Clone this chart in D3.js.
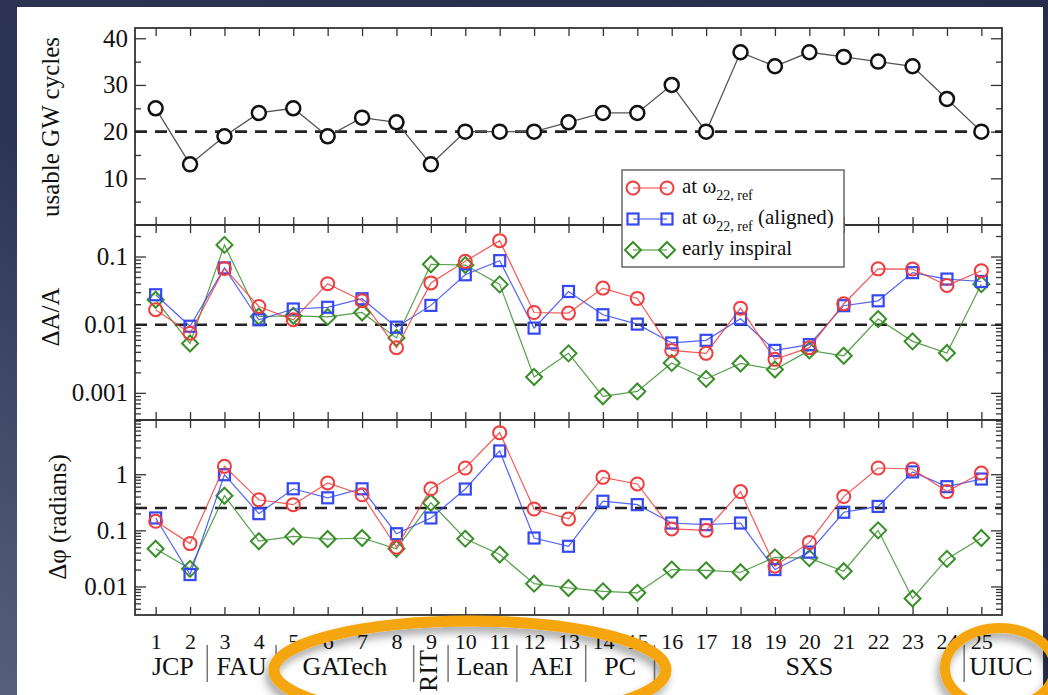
<!DOCTYPE html>
<html>
<head>
<meta charset="utf-8">
<script src="https://cdn.jsdelivr.net/npm/d3@7"></script>
<style>
  body { margin: 0; background: #2a3150; }
  svg { display: block; }
  text { font-family: "Liberation Serif", "DejaVu Serif", serif; fill: #111; }
</style>
</head>
<body>
<div id="chart"></div>
<script>
// run numbers 1..25
var runs = [1,2,3,4,5,6,7,8,9,10,11,12,13,14,15,16,17,18,19,20,21,22,23,24,25];

// usable GW cycles
var cycles = [25,13,19,24,25,19,23,22,13,20,20,20,22,24,24,30,20,37,34,37,36,35,34,27,20];

// amplitude error dA/A
var ampRef     = [0.0166,0.0075,0.067,0.0185,0.0118,0.040,0.0225,0.0046,0.041,0.085,0.171,0.0151,0.0148,0.0344,0.0243,0.0042,0.0038,0.0175,0.0031,0.0046,0.0203,0.066,0.0655,0.0376,0.062];
var ampAligned = [0.0275,0.0095,0.068,0.0118,0.017,0.018,0.024,0.0092,0.0192,0.054,0.087,0.0089,0.0307,0.014,0.0102,0.0054,0.0059,0.0122,0.0042,0.0051,0.019,0.0224,0.058,0.0467,0.043];
var ampEarly   = [0.0232,0.0053,0.148,0.0132,0.0135,0.0130,0.0151,0.0064,0.077,0.075,0.039,0.00171,0.0038,0.00089,0.00105,0.00275,0.0016,0.0027,0.0022,0.0042,0.0035,0.0121,0.0057,0.00385,0.0393];

// phase error (radians)
var phaseRef     = [0.145,0.058,1.38,0.35,0.287,0.70,0.43,0.050,0.55,1.29,5.5,0.24,0.16,0.88,0.67,0.106,0.10,0.49,0.023,0.061,0.40,1.29,1.24,0.49,1.05];
var phaseAligned = [0.166,0.0163,0.98,0.198,0.55,0.38,0.55,0.087,0.166,0.545,2.6,0.073,0.052,0.33,0.287,0.135,0.126,0.135,0.020,0.041,0.21,0.267,1.1,0.60,0.82];
var phaseEarly   = [0.047,0.0206,0.414,0.064,0.078,0.070,0.073,0.047,0.31,0.071,0.037,0.0112,0.0094,0.0082,0.0077,0.020,0.0194,0.0179,0.033,0.032,0.0187,0.10,0.0061,0.031,0.073];

// research groups and the runs they contributed
var groupNames = ["JCP","FAU","GATech","RIT","Lean","AEI","PC","SXS","UIUC"];
var groupFirst = [1,3,5,9,10,12,14,16,25];
var groupLast  = [2,4,8,9,11,13,15,24,25];

var legendLabels = [["at \u03c9", "22, ref", ""], ["at \u03c9", "22, ref", " (aligned)"], ["early inspiral", "", ""]];

var W = 1048, H = 695;
var red = "#f03c3c", blue = "#3548f2", green = "#3a8f2a";

var svg = d3.select("#chart").append("svg").attr("width", W).attr("height", H);

var defs = svg.append("defs");
var grad = defs.append("linearGradient").attr("id", "bg")
    .attr("x1", "1").attr("y1", "0").attr("x2", "0").attr("y2", "1");
grad.append("stop").attr("offset", "0").attr("stop-color", "#262d4a");
grad.append("stop").attr("offset", "0.6").attr("stop-color", "#2d3554");
grad.append("stop").attr("offset", "1").attr("stop-color", "#56607c");
var shadow = defs.append("filter").attr("id", "shadow")
    .attr("x", "-20%").attr("y", "-20%").attr("width", "140%").attr("height", "140%");
shadow.append("feDropShadow").attr("dx", -3).attr("dy", 6).attr("stdDeviation", 4)
    .attr("flood-color", "#000").attr("flood-opacity", 0.35);

svg.append("rect").attr("width", W).attr("height", H).attr("fill", "url(#bg)");
svg.append("rect").attr("x", 17).attr("y", 7).attr("width", 1026).attr("height", H - 7).attr("fill", "#fff");

var x = d3.scaleLinear().domain([0.4, 25.6]).range([135, 1002]);
var y1 = d3.scaleLinear().domain([0, 42.2]).range([225, 28]);
var y2 = d3.scaleLog().domain([4e-4, 0.29]).range([420, 225]);
var y3 = d3.scaleLog().domain([0.0031, 9.25]).range([615, 420]);

function minorLog(scale) {
  var d = scale.domain(), out = [];
  for (var e = Math.floor(Math.log10(d[0])); e <= Math.ceil(Math.log10(d[1])); e++) {
    for (var m = 2; m <= 9; m++) {
      var v = m * Math.pow(10, e);
      if (v >= d[0] && v <= d[1]) out.push(v);
    }
  }
  return out;
}

function styleAxis(g) {
  g.select(".domain").remove();
  g.selectAll(".tick line").attr("stroke", "#333").attr("stroke-width", 1.3);
  g.selectAll("text").attr("fill", "#111").attr("font-family", '"Liberation Serif", serif');
}

function frame(y, majors, minors, fmt, showX) {
  var top = y.range()[1], bottom = y.range()[0];
  var g = svg.append("g");
  // y ticks left and right, pointing inward
  g.append("g").attr("transform", "translate(135,0)")
    .call(d3.axisLeft(y).tickValues(majors).tickSize(-11).tickPadding(7).tickFormat(fmt))
    .call(styleAxis)
    .selectAll("text").attr("font-size", 25);
  g.append("g").attr("transform", "translate(135,0)")
    .call(d3.axisLeft(y).tickValues(minors).tickSize(-6).tickFormat(""))
    .call(styleAxis);
  g.append("g").attr("transform", "translate(1002,0)")
    .call(d3.axisRight(y).tickValues(majors).tickSize(-11).tickFormat(""))
    .call(styleAxis);
  g.append("g").attr("transform", "translate(1002,0)")
    .call(d3.axisRight(y).tickValues(minors).tickSize(-6).tickFormat(""))
    .call(styleAxis);
  // x ticks top and bottom
  g.append("g").attr("transform", "translate(0," + top + ")")
    .call(d3.axisTop(x).tickValues(runs).tickSize(-8).tickFormat(""))
    .call(styleAxis);
  var xb = g.append("g").attr("transform", "translate(0," + bottom + ")")
    .call(d3.axisBottom(x).tickValues(runs).tickSize(-8).tickPadding(showX ? 18 : 0)
      .tickFormat(showX ? d3.format("d") : ""))
    .call(styleAxis);
  xb.selectAll("text").attr("font-size", 22);
  g.append("rect").attr("x", 135).attr("y", top).attr("width", 1002 - 135).attr("height", bottom - top)
    .attr("fill", "none").attr("stroke", "#333").attr("stroke-width", 1.8);
}

function dashed(y, v) {
  svg.append("line").attr("x1", x.range()[0]).attr("x2", x.range()[1])
    .attr("y1", y(v)).attr("y2", y(v))
    .attr("stroke", "#222").attr("stroke-width", 2.6).attr("stroke-dasharray", "12,8");
}

function marker(g, shape, color, cx, cy) {
  if (shape === "circle") {
    g.append("circle").attr("cx", cx).attr("cy", cy).attr("r", 6.5)
      .attr("fill", "none").attr("stroke", color).attr("stroke-width", 2);
  } else if (shape === "square") {
    g.append("rect").attr("x", cx - 5.5).attr("y", cy - 5.5).attr("width", 11).attr("height", 11)
      .attr("fill", "none").attr("stroke", color).attr("stroke-width", 2.2);
  } else {
    g.append("path").attr("d", "M" + cx + "," + (cy - 8) + "L" + (cx + 8) + "," + cy + "L" + cx + "," + (cy + 8) + "L" + (cx - 8) + "," + cy + "Z")
      .attr("fill", "none").attr("stroke", color).attr("stroke-width", 2);
  }
}

function series(y, values, color, shape) {
  var g = svg.append("g");
  var line = d3.line().x(function(d, i) { return x(runs[i]); }).y(function(d) { return y(d); });
  g.append("path").datum(values).attr("d", line)
    .attr("fill", "none").attr("stroke", color).attr("stroke-width", 1.2).attr("opacity", 0.85);
  values.forEach(function(v, i) { marker(g, shape, color, x(runs[i]), y(v)); });
}

// ---- panel 1: usable cycles
frame(y1, [10, 20, 30, 40], [5, 15, 25, 35], d3.format("d"), false);
dashed(y1, 20);
var line1 = d3.line().x(function(d, i) { return x(runs[i]); }).y(function(d) { return y1(d); });
svg.append("path").datum(cycles).attr("d", line1)
  .attr("fill", "none").attr("stroke", "#555").attr("stroke-width", 1.3);
svg.selectAll(".cyc").data(cycles).enter().append("circle")
  .attr("cx", function(d, i) { return x(runs[i]); })
  .attr("cy", function(d) { return y1(d); })
  .attr("r", 7).attr("fill", "#fff").attr("stroke", "#111").attr("stroke-width", 2.5);

// ---- panel 2: amplitude
frame(y2, [0.001, 0.01, 0.1], minorLog(y2), function(d) { return String(d); }, false);
dashed(y2, 0.01);
series(y2, ampEarly, green, "diamond");
series(y2, ampAligned, blue, "square");
series(y2, ampRef, red, "circle");

// ---- panel 3: phase
frame(y3, [0.01, 0.1, 1], minorLog(y3), function(d) { return String(d); }, true);
dashed(y3, 0.25);
series(y3, phaseEarly, green, "diamond");
series(y3, phaseAligned, blue, "square");
series(y3, phaseRef, red, "circle");

// ---- axis titles
[["usable GW cycles", 50, 127], ["\u0394A/A", 50, 317], ["\u0394\u03c6 (radians)", 57, 517]].forEach(function(t) {
  svg.append("text").attr("transform", "translate(" + t[1] + "," + t[2] + ") rotate(-90)")
    .attr("text-anchor", "middle").attr("dominant-baseline", "central")
    .attr("font-size", 25).text(t[0]);
});

// ---- legend
var lg = svg.append("g").attr("transform", "translate(622,170)");
lg.append("rect").attr("width", 222).attr("height", 97).attr("fill", "#fff")
  .attr("stroke", "#666").attr("stroke-width", 1.5);
var legendColors = [red, blue, green], legendShapes = ["circle", "square", "diamond"];
legendLabels.forEach(function(l, i) {
  var cy = 18 + i * 31;
  lg.append("line").attr("x1", 11).attr("x2", 45).attr("y1", cy).attr("y2", cy)
    .attr("stroke", legendColors[i]).attr("stroke-width", 1.2);
  marker(lg, legendShapes[i], legendColors[i], 11, cy);
  marker(lg, legendShapes[i], legendColors[i], 45, cy);
  var t = lg.append("text").attr("x", 60).attr("y", cy + 5).attr("font-size", 21).text(l[0]);
  if (l[1]) {
    t.append("tspan").attr("font-size", 14).attr("dy", 7).text(l[1]);
    if (l[2]) t.append("tspan").attr("dy", -7).text(l[2]);
  }
});

// ---- research group labels under the run numbers
groupNames.forEach(function(name, i) {
  var a = groupFirst[i], b = groupLast[i];
  if (i < groupNames.length - 1) {
    svg.append("line").attr("x1", x(b + 0.5)).attr("x2", x(b + 0.5)).attr("y1", 645).attr("y2", 682)
      .attr("stroke", "#777").attr("stroke-width", 1.5);
  }
  var t = svg.append("text").attr("font-size", 26).text(name);
  if (a === b && i < groupNames.length - 1) {
    t.attr("transform", "translate(" + (x(a) - 2) + ",671) rotate(-90)")
      .attr("text-anchor", "middle").attr("dominant-baseline", "central");
  } else if (i === groupNames.length - 1) {
    t.attr("x", x(a - 0.5) + 5).attr("y", 675).attr("text-anchor", "start");
  } else {
    t.attr("x", x((a + b) / 2)).attr("y", 675).attr("text-anchor", "middle");
  }
});

// ---- orange annotation rings
svg.append("ellipse").attr("cx", 470).attr("cy", 670).attr("rx", 196).attr("ry", 49)
  .attr("fill", "none").attr("stroke", "#f5a50a").attr("stroke-width", 11).attr("filter", "url(#shadow)");
svg.append("ellipse").attr("cx", 1000).attr("cy", 668).attr("rx", 55).attr("ry", 40)
  .attr("fill", "none").attr("stroke", "#f5a50a").attr("stroke-width", 10).attr("filter", "url(#shadow)");
</script>
</body>
</html>
